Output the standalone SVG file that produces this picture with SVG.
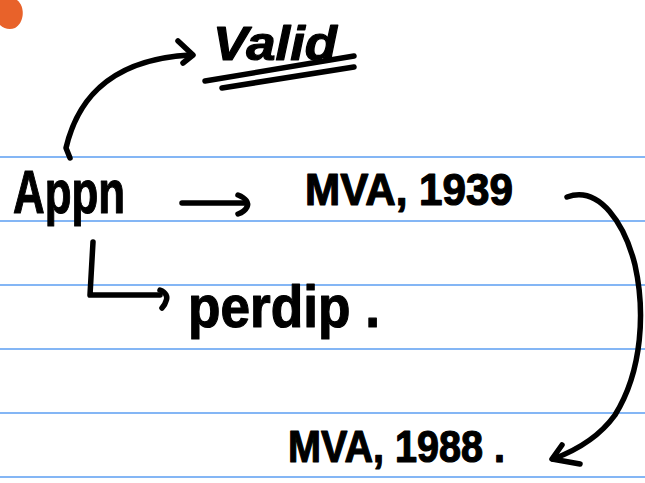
<svg xmlns="http://www.w3.org/2000/svg" width="645" height="483" viewBox="0 0 645 483">
  <defs>
    <style>
      .rule { stroke: #5b9ef2; stroke-width: 1.3; }
      .ink { fill: none; stroke: #000; stroke-width: 5.5; stroke-linecap: round; stroke-linejoin: round; }
      .hand { font-family: "Liberation Sans", "DejaVu Sans", sans-serif; font-weight: bold; fill: #000; stroke: #000; stroke-width: 1.2; stroke-linejoin: round; }
    </style>
  </defs>

  <rect width="645" height="483" fill="#ffffff"/>

  <!-- ruled paper -->
  <g id="rules">
    <line class="rule" x1="0" y1="157" x2="645" y2="157"/>
    <line class="rule" x1="0" y1="221" x2="645" y2="221"/>
    <line class="rule" x1="0" y1="285" x2="645" y2="285"/>
    <line class="rule" x1="0" y1="349" x2="645" y2="349"/>
    <line class="rule" x1="0" y1="413" x2="645" y2="413"/>
    <line class="rule" x1="0" y1="477" x2="645" y2="477"/>
  </g>

  <!-- orange corner badge -->
  <path d="M0,0 H17 C25,6 25,22 15,28 C10,30 4,29 0,25 Z" fill="#e8622a"/>

  <g id="connectors">
    <!-- Appn up to Valid -->
    <path class="ink" d="M70,158 L66,148 C75,110 100,60 190,55"/>
    <path class="ink" d="M178,41 L193,55 L183,63"/>
    <!-- Appn to MVA, 1939 -->
    <path class="ink" d="M182,203 L246,203"/>
    <path class="ink" d="M238,195 C246,198 249,203 247,207 C245,211 241,213 238,214"/>
    <!-- Appn down to perdip -->
    <path class="ink" d="M93,242 L90,295 L160,295"/>
    <path class="ink" d="M160,290 C166,292 168,297 166,301 C165,305 163,307 162,308"/>
    <!-- MVA, 1939 round to MVA, 1988 -->
    <path class="ink" d="M567,197 C600,185 625,225 635,265 C645,310 643,370 615,415 C597,440 572,452 553,459"/>
    <path class="ink" d="M562,445 L552,459 L580,464"/>
  </g>

  <g id="valid">
    <text class="hand" x="213" y="60" font-size="48" font-style="italic" textLength="124" lengthAdjust="spacingAndGlyphs">Valid</text>
    <path class="ink" d="M205,81 L354,56"/>
    <path class="ink" d="M222,88 L354,67"/>
  </g>

  <g id="appn">
    <text class="hand" x="13" y="213" font-size="62" textLength="112" lengthAdjust="spacingAndGlyphs">Appn</text>
  </g>

  <g id="mva1939">
    <text class="hand" x="305" y="205" font-size="44" textLength="208" lengthAdjust="spacingAndGlyphs">MVA, 1939</text>
  </g>

  <g id="perdip">
    <text class="hand" x="188" y="327" font-size="60" textLength="192" lengthAdjust="spacingAndGlyphs">perdip .</text>
  </g>

  <g id="mva1988">
    <text class="hand" x="288" y="462" font-size="44" textLength="217" lengthAdjust="spacingAndGlyphs">MVA, 1988 .</text>
  </g>
</svg>
